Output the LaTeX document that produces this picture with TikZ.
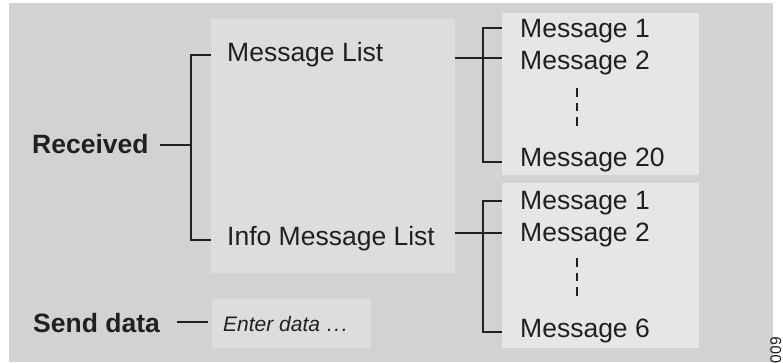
\documentclass[tikz,border=0pt]{standalone}
\usepackage{fontspec}
\setmainfont{Liberation Sans}
\definecolor{ink}{HTML}{231F20}
\definecolor{backdrop}{HTML}{D1D2D4}
\definecolor{panelmid}{HTML}{DCDDDF}
\definecolor{panellight}{HTML}{E5E6E7}
\tikzset{
  label/.style={anchor=base west, inner sep=0pt, text=ink,
    font=\fontsize{26.5}{30}\selectfont},
  headlabel/.style={label, font=\fontsize{26.5}{30}\selectfont\bfseries},
  entrylabel/.style={label, font=\fontsize{21}{24}\selectfont\itshape},
  panel/.style={anchor=north west, inner sep=0pt, draw=none},
  link/.style={draw=ink, line width=2pt},
  ellipsisline/.style={draw=ink, line width=2pt, dash pattern=on 8.7pt off 6pt},
}
\begin{document}
\begin{tikzpicture}[x=1pt, y=-1pt]
\useasboundingbox (0,0) rectangle (783,363);
\fill[backdrop] (9,3) rectangle (773,362);

% panels
\node[panel, fill=panelmid, minimum width=244pt, minimum height=254pt] (lists) at (211,19) {};
\node[panel, fill=panellight, minimum width=197pt, minimum height=162pt] (boxA) at (502,13) {};
\node[panel, fill=panellight, minimum width=197pt, minimum height=165pt] (boxB) at (502,183) {};
\node[panel, fill=panelmid, minimum width=159pt, minimum height=49pt] (entry) at (212,299) {};

% labels
\node[headlabel] (rcv) at (32,154) {Received};
\node[headlabel] (snd) at (33,332) {Send data};
\node[label] (mlist) at (227,62) {Message List};
\node[label] (ilist) at (227,245) {Info Message List};
\node[entrylabel] (enter) at (223,331) {Enter data\hspace{7pt}.\hspace{1.5pt}.\hspace{1.5pt}.};

\node[label] (a1) at (520,38) {Message 1};
\node[label] (a2) at (520,70) {Message 2};
\node[label] (a20) at (520,167) {Message 20};
\node[label] (b1) at (520,209) {Message 1};
\node[label] (b2) at (520,241) {Message 2};
\node[label] (b6) at (520,337) {Message 6};

\node[rotate=90, anchor=base east, inner sep=0pt, text=ink,
  font=\fontsize{15.5}{16}\selectfont] (fignum) at (781,337) {009};

% junction points of the brackets
\coordinate (rcvout) at (160,145);
\coordinate (ltop) at (191,55);
\coordinate (lmid) at (191,145);
\coordinate (lbot) at (191,240);
\coordinate (pa1) at (483,28);
\coordinate (pa2) at (483,58);
\coordinate (pa20) at (483,162);
\coordinate (pb1) at (483,201);
\coordinate (pb2) at (483,233);
\coordinate (pb6) at (483,332);
\coordinate (sndout) at (177,322);
\coordinate (sndin) at (208,322);

% left bracket
\draw[link] (rcvout) -- (lmid);
\draw[link] (lists.west |- ltop) -- (ltop) -- (lbot) -- (lists.west |- lbot);

% message list bracket
\draw[link] (lists.east |- pa2) -- (boxA.west |- pa2);
\draw[link] (boxA.west |- pa1) -- (pa1) -- (pa20) -- (boxA.west |- pa20);

% info message list bracket
\draw[link] (lists.east |- pb2) -- (boxB.west |- pb2);
\draw[link] (boxB.west |- pb1) -- (pb1) -- (pb6) -- (boxB.west |- pb6);

% send data
\draw[link] (sndout) -- (sndin);

% vertical ellipses
\draw[ellipsisline] (577,88) -- (577,128);
\draw[ellipsisline] (577,258) -- (577,298);
\end{tikzpicture}
\end{document}
